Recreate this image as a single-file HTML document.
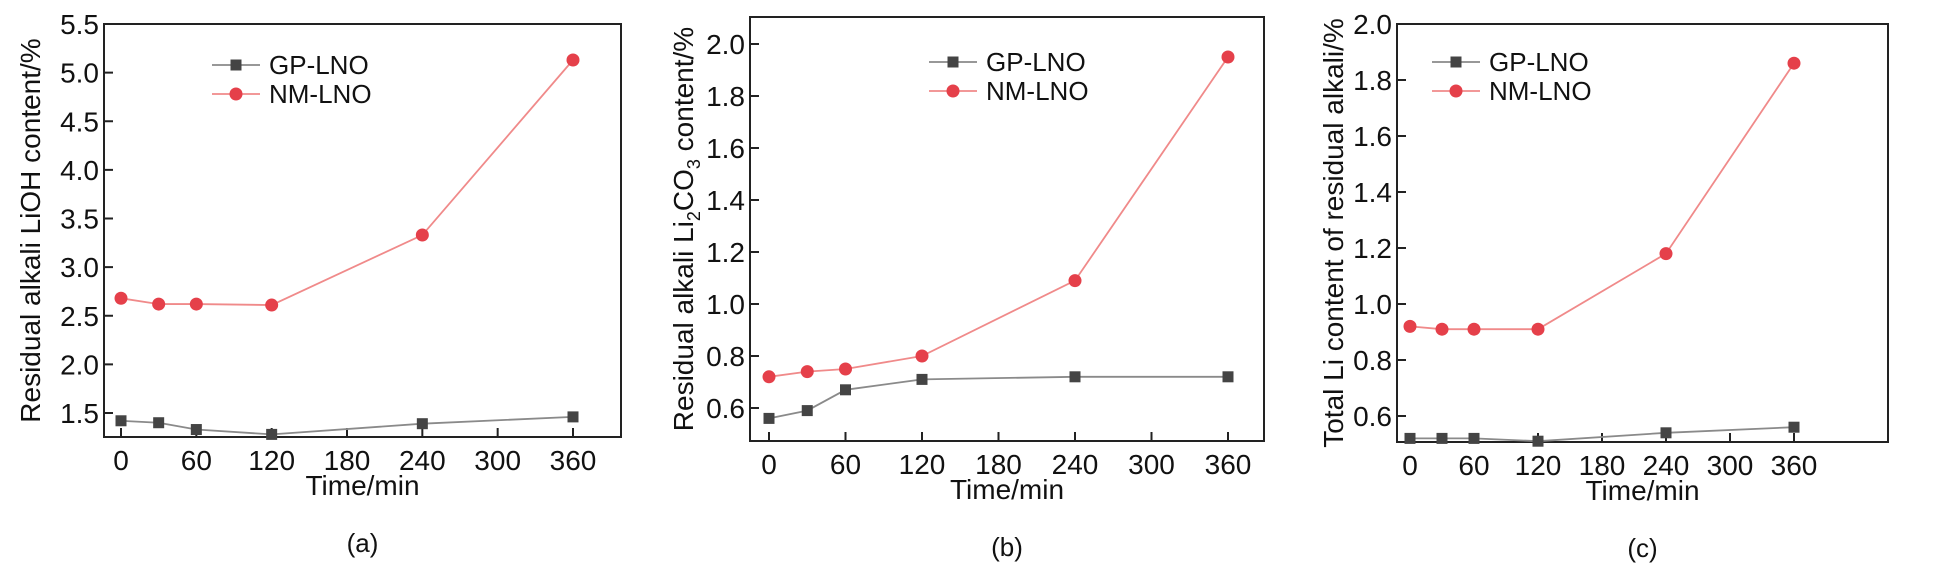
<!DOCTYPE html>
<html><head><meta charset="utf-8"><style>
body{margin:0;background:#fff;width:1949px;height:573px;overflow:hidden}
svg{font-family:"Liberation Sans",Arial,sans-serif}
</style></head><body>
<svg id="fig" width="1949" height="573"></svg>
<script>
const times=[0,30,60,120,240,360];
const xTicks=[0,60,120,180,240,300,360];
const aGP=[1.42,1.40,1.33,1.28,1.39,1.46];
const aNM=[2.68,2.62,2.62,2.61,3.33,5.13];
const aTicks=[1.5,2.0,2.5,3.0,3.5,4.0,4.5,5.0,5.5];
const bGP=[0.56,0.59,0.67,0.71,0.72,0.72];
const bNM=[0.72,0.74,0.75,0.80,1.09,1.95];
const bTicks=[0.6,0.8,1.0,1.2,1.4,1.6,1.8,2.0];
const cGP=[0.52,0.52,0.52,0.51,0.54,0.56];
const cNM=[0.92,0.91,0.91,0.91,1.18,1.86];
const cTicks=[0.6,0.8,1.0,1.2,1.4,1.6,1.8,2.0];
const NS="http://www.w3.org/2000/svg";
const svg=document.getElementById('fig');
function el(tag,attrs,parent,text){const e=document.createElementNS(NS,tag);for(const k in attrs)e.setAttribute(k,attrs[k]);if(text!==undefined)e.textContent=text;(parent||svg).appendChild(e);return e;}
function panel(p){
  const g=el('g',{});
  
  
  const sx=v=>p.x0+v*(p.x360-p.x0)/360;
  const sy=v=>p.yA+(v-p.vA)*(p.yB-p.yA)/(p.vB-p.vA);
  const box=el('rect',{x:p.L,y:p.T,width:p.R-p.L,height:p.B-p.T,fill:'none',stroke:'#222','stroke-width':2},g);
  
  
  xTicks.forEach(t=>{
    const x=sx(t);
    el('line',{x1:x,x2:x,y1:p.B,y2:p.B-9,stroke:'#222','stroke-width':2},g);
    const lt=el('text',{x:x,y:p.B+33,'font-size':28,'text-anchor':'middle',fill:'#111'},g,String(t));
    
    
  });
  p.ticks.forEach(t=>{
    const y=sy(t);
    el('line',{x1:p.L,x2:p.L+9,y1:y,y2:y,stroke:'#222','stroke-width':2},g);
    const lt=el('text',{x:p.L-5,y:y+10,'font-size':28,'text-anchor':'end',fill:'#111'},g,t.toFixed(1));
    
    
  });
  const xt=el('text',{x:(p.L+p.R)/2,y:p.B+58,'font-size':28,'text-anchor':'middle',fill:'#111'},g,'Time/min');
  
  
  const cap=el('text',{x:(p.L+p.R)/2,y:p.B+115,'font-size':26,'text-anchor':'middle',fill:'#111'},g,p.cap);
  
  
  const yt=el('text',{transform:`translate(${p.tx},${(p.T+p.B)/2}) rotate(-90)`,'font-size':28,'text-anchor':'middle',fill:'#111'},g);
  
  
  p.title(yt);
  const series=[{v:p.gp,line:'#8a8a8a',mk:'#444',sq:true,name:'GP-LNO'},{v:p.nm,line:'#f08a8a',mk:'#e5404a',sq:false,name:'NM-LNO'}];
  series.forEach((s,si)=>{
    const pts=s.v.map((v,i)=>sx(times[i])+','+sy(v)).join(' ');
    const pl=el('polyline',{points:pts,fill:'none',stroke:s.line,'stroke-width':1.8},g);
    
    
    s.v.forEach((v,i)=>{
      const x=sx(times[i]),y=sy(v);
      const m=s.sq?el('rect',{x:x-5.5,y:y-5.5,width:11,height:11,fill:s.mk},g):el('circle',{cx:x,cy:y,r:6.5,fill:s.mk},g);
      
      
    });
    const ly=p.legY+si*29;
    const lg=el('g',{},g);
    
    
    el('line',{x1:p.legX,x2:p.legX+48,y1:ly,y2:ly,stroke:s.line,'stroke-width':1.8},lg);
    if(s.sq)el('rect',{x:p.legX+18.5,y:ly-5.5,width:11,height:11,fill:s.mk},lg);else el('circle',{cx:p.legX+24,cy:ly,r:6.5,fill:s.mk},lg);
    el('text',{x:p.legX+57,y:ly+9,'font-size':26,fill:'#111'},lg,s.name);
  });
}
panel({id:'a',L:104,R:621,T:24,B:437,x0:121,x360:573,vA:5.5,yA:24,vB:1.5,yB:413,ticks:aTicks,gp:aGP,nm:aNM,cap:'(a)',tx:40,legX:212,legY:65,
  title:t=>{t.textContent='Residual alkali LiOH content/%';}});
panel({id:'b',L:750,R:1264,T:17,B:441,x0:769,x360:1228,vA:2.0,yA:44,vB:0.6,yB:408,ticks:bTicks,gp:bGP,nm:bNM,cap:'(b)',tx:693,legX:929,legY:62,
  title:t=>{el('tspan',{},t,'Residual alkali Li');el('tspan',{'font-size':18,dy:7},t,'2');el('tspan',{dy:-7},t,'CO');el('tspan',{'font-size':18,dy:7},t,'3');el('tspan',{dy:-7},t,' content/%');}});
panel({id:'c',L:1397,R:1888,T:24,B:442,x0:1410,x360:1794,vA:2.0,yA:24,vB:0.6,yB:416,ticks:cTicks,gp:cGP,nm:cNM,cap:'(c)',tx:1343,legX:1432,legY:62,
  title:t=>{t.textContent='Total Li content of residual alkali/%';}});
</script>
</body></html>
